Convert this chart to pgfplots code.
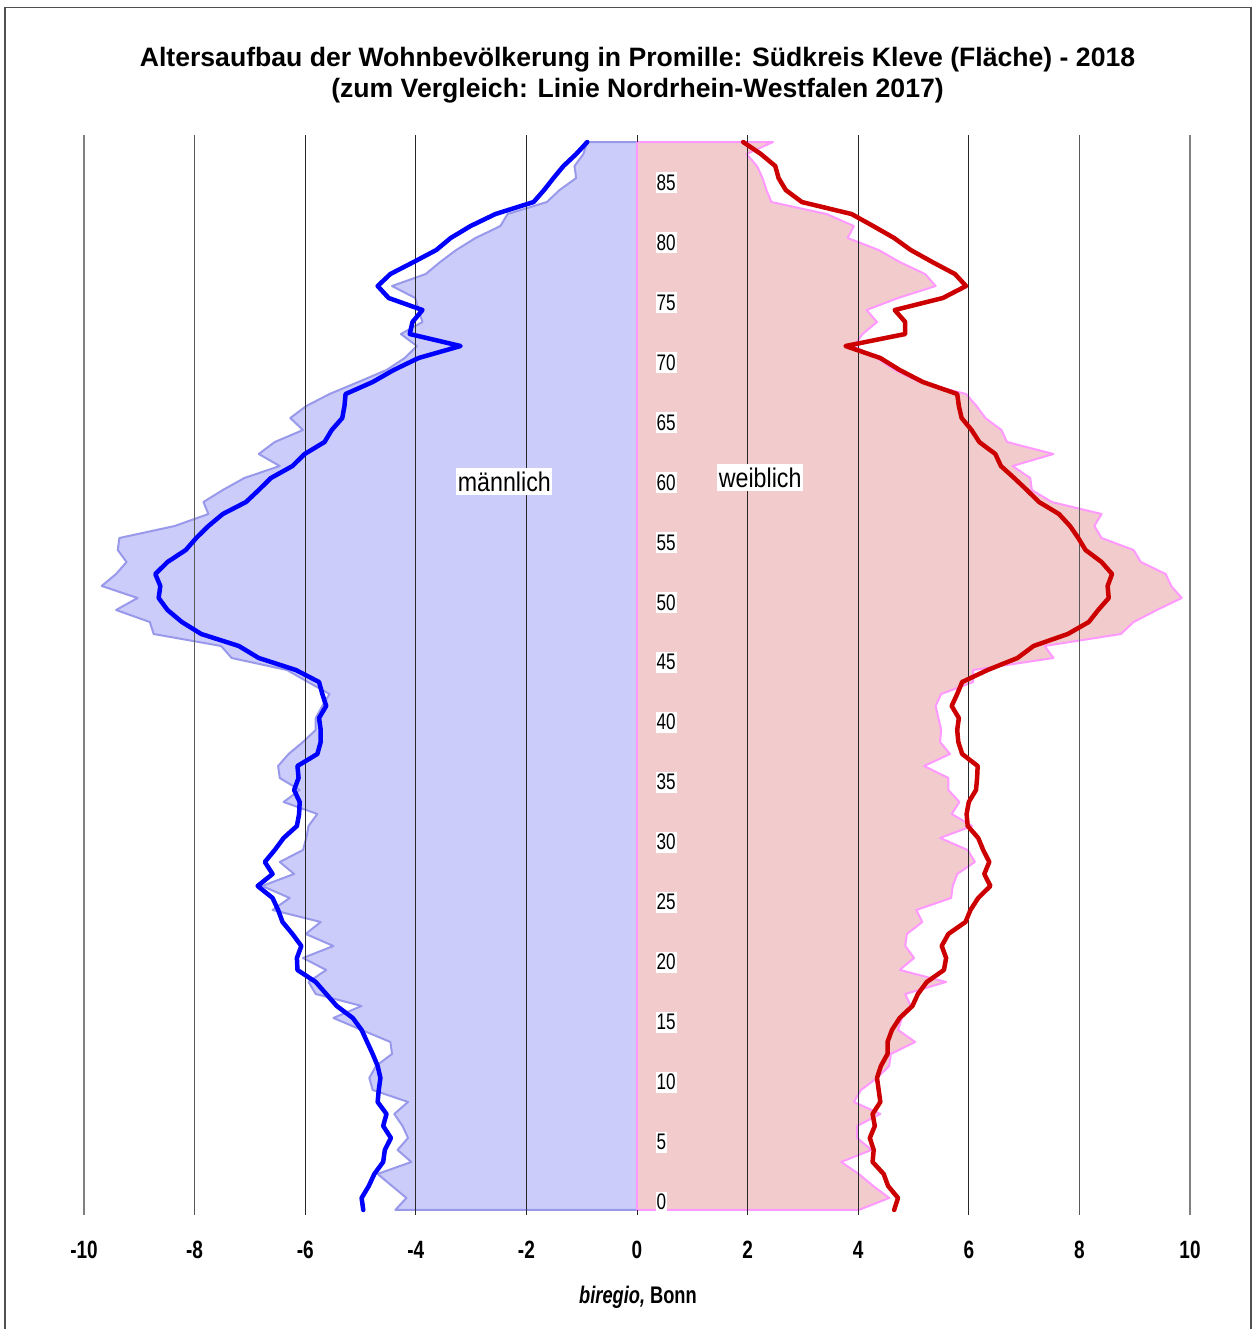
\documentclass[border=0pt]{standalone}
\usepackage{pgfplots}
\pgfplotsset{compat=1.18}
\usepackage{fontspec}
\setmainfont{Liberation Sans}
\newfontfamily\narrow[FakeStretch=0.76]{Liberation Sans}
\newfontfamily\labfont[FakeStretch=0.86]{Liberation Sans}

\definecolor{mfill}{RGB}{204,204,250}
\definecolor{mline}{RGB}{153,153,235}
\definecolor{ffill}{RGB}{242,204,204}
\definecolor{fline}{RGB}{255,153,255}
\definecolor{nrwm}{RGB}{0,0,255}
\definecolor{nrwf}{RGB}{204,0,0}
\definecolor{gridc}{RGB}{40,40,40}
\definecolor{framec}{RGB}{80,80,80}

\begin{document}
\begin{tikzpicture}[x=1bp,y=1bp]
\useasboundingbox (0,0) rectangle (1259,1329);
\draw[line width=1.6bp, framec] (5,-5) -- (5,1321.5) -- (1251,1321.5) -- (1251,-5);
\node[anchor=base, font=\fontsize{26.6bp}{30bp}\selectfont\bfseries, inner sep=0] at (637.5,1262.5) {Altersaufbau der Wohnbevölkerung in Promille: Südkreis Kleve (Fläche) - 2018};
\node[anchor=base, font=\fontsize{26.6bp}{30bp}\selectfont\bfseries, inner sep=0] at (637.5,1231.5) {(zum Vergleich: Linie Nordrhein-Westfalen 2017)};
\node[anchor=base, font=\narrow\bfseries\fontsize{24bp}{28bp}\selectfont, inner sep=0] at (638,25) {\itshape biregio,\upshape\ Bonn};

\begin{axis}[
  at={(84bp,114bp)}, anchor=south west,
  scale only axis, width=1106bp, height=1080bp,
  xmin=-10, xmax=10, ymin=-0.42, ymax=89.58,
  clip=false,
  axis line style={draw=none},
  major tick length=0pt,
  ytick=\empty,
  xtick={-10,-8,-6,-4,-2,0,2,4,6,8,10},
  xticklabels={-10,-8,-6,-4,-2,0,2,4,6,8,10},
  xticklabel style={anchor=base, yshift=-44bp, inner sep=0pt,
    font=\narrow\bfseries\fontsize{25bp}{28bp}\selectfont},
]
% Suedkreis Kleve, maennlich (area)
\addplot[draw=mline, line width=2bp, fill=mfill, line join=round] coordinates {
(0,0) (-4.37,0) (-4.17,1) (-4.43,2) (-4.69,3) (-4.08,4) (-4.33,5) (-4.14,6) (-4.24,7) (-4.39,8) (-4.14,9)
(-4.78,10) (-4.84,11) (-4.72,12) (-4.43,13) (-4.46,14) (-4.98,15) (-5.49,16) (-4.98,17) (-5.81,18) (-5.94,19)
(-5.62,20) (-6.04,21) (-5.49,22) (-5.99,23) (-5.72,24) (-6.59,25) (-6.28,26) (-6.78,27) (-6.20,28) (-6.46,29)
(-6.04,30) (-5.98,31) (-5.94,32) (-5.78,33) (-6.39,34) (-6.10,35) (-6.46,36) (-6.49,37) (-6.30,38) (-6.04,39)
(-5.81,40) (-5.81,41) (-5.69,42) (-5.56,43) (-5.95,44) (-6.33,45) (-7.33,46) (-7.52,47) (-8.74,48) (-8.81,49)
(-9.42,50) (-9.03,51) (-9.68,52) (-9.42,53) (-9.23,54) (-9.39,55) (-9.36,56) (-8.36,57) (-7.75,58) (-7.84,59)
(-7.49,60) (-7.10,61) (-6.46,62) (-6.84,63) (-6.55,64) (-6.04,65) (-6.27,66) (-5.98,67) (-5.56,68) (-5.04,69)
(-4.53,70) (-4.20,71) (-3.98,72) (-4.27,73) (-3.88,74) (-3.95,75) (-4.01,76) (-4.43,77) (-3.82,78) (-3.56,79)
(-3.27,80) (-2.92,81) (-2.47,82) (-2.34,83) (-1.63,84) (-1.40,85) (-1.10,86) (-1.13,87) (-0.97,88) (-0.90,89)
(0,89)} -- cycle;
% Suedkreis Kleve, weiblich (area)
\addplot[draw=fline, line width=2bp, fill=ffill, line join=round] coordinates {
(0,0) (4.01,0) (4.56,1) (4.27,2) (4.01,3) (3.69,4) (4.24,5) (3.98,6) (3.98,7) (4.40,8) (3.92,9)
(4.05,10) (4.34,11) (4.56,12) (4.59,13) (5.03,14) (4.72,15) (4.79,16) (4.95,17) (4.85,18) (5.59,19)
(4.75,20) (5.01,21) (4.85,22) (4.88,23) (5.16,24) (5.05,25) (5.68,26) (5.71,27) (5.79,28) (6.11,29)
(5.98,30) (5.48,31) (6.06,32) (5.69,33) (5.83,34) (5.63,35) (5.63,36) (5.19,37) (5.66,38) (5.48,39)
(5.50,40) (5.45,41) (5.40,42) (5.50,43) (6.08,44) (6.08,45) (7.53,46) (7.37,47) (8.75,48) (8.98,49)
(9.40,50) (9.85,51) (9.66,52) (9.56,53) (9.11,54) (8.98,55) (8.40,56) (8.27,57) (8.40,58) (7.50,59)
(7.14,60) (7.11,61) (6.79,62) (7.53,63) (6.69,64) (6.59,65) (6.30,66) (6.14,67) (5.95,68) (5.11,69)
(4.66,70) (4.34,71) (3.92,72) (4.08,73) (4.34,74) (4.15,75) (4.72,76) (5.40,77) (5.21,78) (4.75,79)
(4.37,80) (3.81,81) (3.92,82) (3.43,83) (2.43,84) (2.34,85) (2.27,86) (2.17,87) (1.98,88) (2.46,89)
(0,89)} -- cycle;
% grid lines
\addplot[line width=1.6bp, gray] coordinates {(-10,-0.42) (-10,89.58)};
\addplot[line width=1.6bp, gray] coordinates {(10,-0.42) (10,89.58)};
\addplot[line width=1.2bp, gray!70!black] coordinates {(-8,-0.42) (-8,89.58)};
\addplot[line width=1.2bp, gray!70!black] coordinates {(8,-0.42) (8,89.58)};
\addplot[line width=1.2bp, gridc] coordinates {(-6,-0.42) (-6,89.58)};
\addplot[line width=1.2bp, gridc] coordinates {(6,-0.42) (6,89.58)};
\addplot[line width=1.2bp, gridc] coordinates {(-4,-0.42) (-4,89.58)};
\addplot[line width=1.2bp, gridc] coordinates {(4,-0.42) (4,89.58)};
\addplot[line width=1.2bp, gridc] coordinates {(-2,-0.42) (-2,89.58)};
\addplot[line width=1.2bp, gridc] coordinates {(2,-0.42) (2,89.58)};
\addplot[line width=1.0bp, gridc] coordinates {(0,89) (0,89.58)};
\addplot[line width=1.0bp, gridc] coordinates {(0,-0.42) (0,0)};
% NRW 2017, maennlich (line)
\addplot[draw=nrwm, line width=4.5bp, line join=round, line cap=round] coordinates {
(-4.95,0) (-4.98,1) (-4.85,2) (-4.75,3) (-4.59,4) (-4.56,5) (-4.45,6) (-4.59,7) (-4.53,8) (-4.69,9)
(-4.67,10) (-4.64,11) (-4.69,12) (-4.78,13) (-4.88,14) (-4.98,15) (-5.14,16) (-5.43,17) (-5.62,18) (-5.81,19)
(-6.14,20) (-6.15,21) (-6.07,22) (-6.23,23) (-6.41,24) (-6.49,25) (-6.59,26) (-6.86,27) (-6.59,28) (-6.73,29)
(-6.55,30) (-6.39,31) (-6.15,32) (-6.11,33) (-6.10,34) (-6.20,35) (-6.12,36) (-6.14,37) (-5.78,38) (-5.72,39)
(-5.72,40) (-5.75,41) (-5.62,42) (-5.69,43) (-5.75,44) (-6.17,45) (-6.84,46) (-7.20,47) (-7.88,48) (-8.23,49)
(-8.49,50) (-8.65,51) (-8.62,52) (-8.71,53) (-8.49,54) (-8.16,55) (-7.97,56) (-7.75,57) (-7.49,58) (-7.07,59)
(-6.84,60) (-6.62,61) (-6.23,62) (-6.01,63) (-5.65,64) (-5.52,65) (-5.33,66) (-5.29,67) (-5.27,68) (-4.78,69)
(-4.40,70) (-3.95,71) (-3.19,72) (-4.11,73) (-4.06,74) (-3.88,75) (-4.49,76) (-4.69,77) (-4.46,78) (-4.04,79)
(-3.63,80) (-3.37,81) (-3.01,82) (-2.56,83) (-1.87,84) (-1.68,85) (-1.51,86) (-1.33,87) (-1.10,88) (-0.90,89)};
% NRW 2017, weiblich (line)
\addplot[draw=nrwf, line width=4.5bp, line join=round, line cap=round] coordinates {
(4.65,0) (4.72,1) (4.54,2) (4.46,3) (4.26,4) (4.28,5) (4.21,6) (4.30,7) (4.26,8) (4.40,9)
(4.37,10) (4.34,11) (4.41,12) (4.53,13) (4.53,14) (4.61,15) (4.75,16) (4.98,17) (5.08,18) (5.24,19)
(5.55,20) (5.59,21) (5.51,22) (5.63,23) (5.94,24) (6.03,25) (6.17,26) (6.39,27) (6.28,28) (6.37,29)
(6.26,30) (6.17,31) (5.98,32) (5.96,33) (6.00,34) (6.13,35) (6.15,36) (6.16,37) (5.88,38) (5.81,39)
(5.79,40) (5.82,41) (5.69,42) (5.79,43) (5.88,44) (6.34,45) (6.88,46) (7.17,47) (7.79,48) (8.17,49)
(8.34,50) (8.53,51) (8.51,52) (8.59,53) (8.40,54) (8.11,55) (7.98,56) (7.83,57) (7.63,58) (7.27,59)
(7.05,60) (6.82,61) (6.58,62) (6.48,63) (6.19,64) (6.05,65) (5.87,66) (5.82,67) (5.79,68) (5.17,69)
(4.75,70) (4.40,71) (3.77,72) (4.85,73) (4.85,74) (4.66,75) (5.53,76) (5.95,77) (5.75,78) (5.34,79)
(4.95,80) (4.65,81) (4.27,82) (3.88,83) (2.98,84) (2.69,85) (2.56,86) (2.50,87) (2.24,88) (1.92,89)};
% age labels
\pgfplotsinvokeforeach{0,5,...,85}{
  \node[anchor=base west, fill=white, inner xsep=1bp, inner ysep=2.5bp,
    font=\narrow\fontsize{22.5bp}{26bp}\selectfont] at (axis cs:0.335,#1) {#1};
}
\node[anchor=base west, fill=white, inner xsep=1.5bp, inner ysep=3.5bp,
  font=\labfont\fontsize{27bp}{30bp}\selectfont] at (axis cs:-3.27,59.9) {männlich};
\node[anchor=base west, fill=white, inner xsep=1.5bp, inner ysep=3.5bp,
  font=\labfont\fontsize{27bp}{30bp}\selectfont] at (axis cs:1.45,60.25) {weiblich};
\end{axis}
\end{tikzpicture}
\end{document}
